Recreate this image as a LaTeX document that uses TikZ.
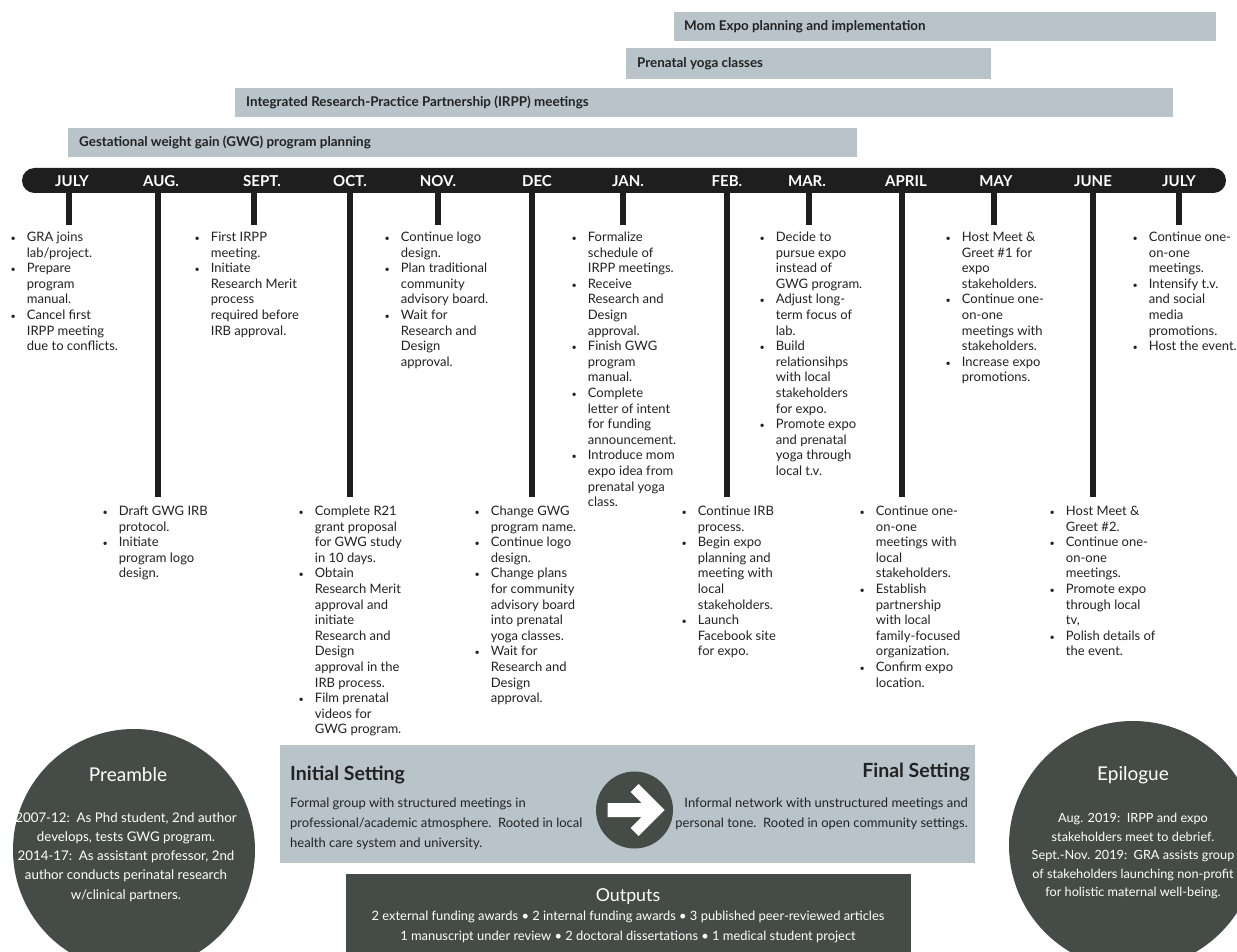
\documentclass[tikz,border=0pt]{standalone}
\usepackage{fontspec}
\setmainfont{Lato}
\usetikzlibrary{positioning}

\definecolor{barblue}{HTML}{B8C4CA}
\definecolor{slate}{HTML}{454C48}
\definecolor{ink}{HTML}{1E1E1E}
\definecolor{txt}{HTML}{222222}

% bullet list with hand broken lines
\newcommand{\steps}[1]{\begin{tabular}[t]{@{}c@{\hspace{11pt}}l@{}}#1\end{tabular}}
\newcommand{\bul}{{\fontsize{9}{9}\selectfont\textbullet}&}

\begin{document}
\begin{tikzpicture}[x=1pt, y=-1pt,
		phase/.style={fill=barblue, anchor=north west, inner sep=0pt, minimum height=29pt},
		phaselbl/.style={anchor=west, inner sep=0pt, font=\bfseries\fontsize{13.4}{15}\selectfont, text=txt},
		timeline/.style={fill=ink, rounded corners=12.5pt, inner sep=0pt, minimum height=25pt},
		month/.style={font=\bfseries\fontsize{15}{16}\selectfont, text=white, inner sep=0pt},
		tick/.style={draw=ink, line width=6.5pt},
		evt/.style={anchor=base west, inner sep=0pt, font=\fontsize{13}{15.6}\selectfont, text=txt},
		disc/.style={circle, fill=slate, inner sep=0pt},
		disctitle/.style={font=\fontsize{19}{22}\selectfont, text=white, inner sep=0pt},
		disctext/.style={align=center, font=\fontsize{13.3}{19.2}\selectfont, text=white, inner sep=0pt},
		settext/.style={font=\fontsize{13}{20}\selectfont, text=txt, inner sep=0pt},
		sethead/.style={font=\bfseries\fontsize{19.5}{22}\selectfont, text=txt, inner sep=0pt}
	]

	\path[use as bounding box, fill=white] (0,0) rectangle (1237,952);

	% phases
	\node[phase, minimum width=542pt] (expo) at (674,12) {};
	\node[phaselbl, right=10pt of expo.west] (expolbl) {Mom Expo planning and implementation};
	\node[phase, minimum width=365pt, minimum height=31pt] (yoga) at (626,48) {};
	\node[phaselbl, right=11pt of yoga.west] (yogalbl) {Prenatal yoga classes};
	\node[phase, minimum width=938pt] (irpp) at (235,88) {};
	\node[phaselbl, right=11pt of irpp.west] (irpplbl) {Integrated Research-Practice Partnership (IRPP) meetings};
	\node[phase, minimum width=789pt] (gwg) at (68,128) {};
	\node[phaselbl, right=11pt of gwg.west] (gwglbl) {Gestational weight gain (GWG) program planning};

	% timeline
	\node[timeline, minimum width=1204pt] (tl) at (624,180.5) {};
	\foreach \x/\m [count=\i] in {72/JULY, 161/AUG., 262/SEPT., 350/OCT., 438/NOV., 537/DEC, 628/JAN., 727/FEB., 807/MAR., 906/APRIL, 996/MAY, 1093/JUNE, 1179/JULY}
		\node[month] (m\i) at (\x,181.5) {\m};

	\foreach \x/\y [count=\i] in {69/225, 158/497, 254/225, 350/497, 438/225, 532/497, 623/225, 727/497, 809/225, 902/497, 994/225, 1093/497, 1179/225}
	{
		\coordinate (tk\i) at (\x,\y);
		\draw[tick] (tk\i |- tl.south) -- (tk\i);
	}

	% above the line
	\node[evt] (ev1) at (10.5,241.5) {\steps{\bul GRA joins\\ & lab/project.\\ \bul Prepare\\ & program\\ & manual.\\ \bul Cancel first\\ & IRPP meeting\\ & due to conflicts.}};
	\node[evt] (ev3) at (194.5,241.5) {\steps{\bul First IRPP\\ & meeting.\\ \bul Initiate\\ & Research Merit\\ & process\\ & required before\\ & IRB approval.}};
	\node[evt] (ev5) at (384.5,241.5) {\steps{\bul Continue logo\\ & design.\\ \bul Plan traditional\\ & community\\ & advisory board.\\ \bul Wait for\\ & Research and\\ & Design\\ & approval.}};
	\node[evt] (ev7) at (571.5,241.5) {\steps{\bul Formalize\\ & schedule of\\ & IRPP meetings.\\ \bul Receive\\ & Research and\\ & Design\\ & approval.\\ \bul Finish GWG\\ & program\\ & manual.\\ \bul Complete\\ & letter of intent\\ & for funding\\ & announcement.\\ \bul Introduce mom\\ & expo idea from\\ & prenatal yoga\\ & class.}};
	\node[evt] (ev9) at (759.5,241.5) {\steps{\bul Decide to\\ & pursue expo\\ & instead of\\ & GWG program.\\ \bul Adjust long-\\ & term focus of\\ & lab.\\ \bul Build\\ & relationsihps\\ & with local\\ & stakeholders\\ & for expo.\\ \bul Promote expo\\ & and prenatal\\ & yoga through\\ & local t.v.}};
	\node[evt] (ev11) at (945.5,241.5) {\steps{\bul Host Meet \&\\ & Greet \#1 for\\ & expo\\ & stakeholders.\\ \bul Continue one-\\ & on-one\\ & meetings with\\ & stakeholders.\\ \bul Increase expo\\ & promotions.}};
	\node[evt] (ev13) at (1132.5,241.5) {\steps{\bul Continue one-\\ & on-one\\ & meetings.\\ \bul Intensify t.v.\\ & and social\\ & media\\ & promotions.\\ \bul Host the event.}};

	% below the line
	\node[evt] (ev2) at (102.5,515.5) {\steps{\bul Draft GWG IRB\\ & protocol.\\ \bul Initiate\\ & program logo\\ & design.}};
	\node[evt] (ev4) at (298.5,515.5) {\steps{\bul Complete R21\\ & grant proposal\\ & for GWG study\\ & in 10 days.\\ \bul Obtain\\ & Research Merit\\ & approval and\\ & initiate\\ & Research and\\ & Design\\ & approval in the\\ & IRB process.\\ \bul Film prenatal\\ & videos for\\ & GWG program.}};
	\node[evt] (ev6) at (474.5,515.5) {\steps{\bul Change GWG\\ & program name.\\ \bul Continue logo\\ & design.\\ \bul Change plans\\ & for community\\ & advisory board\\ & into prenatal\\ & yoga classes.\\ \bul Wait for\\ & Research and\\ & Design\\ & approval.}};
	\node[evt] (ev8) at (681.5,515.5) {\steps{\bul Continue IRB\\ & process.\\ \bul Begin expo\\ & planning and\\ & meeting with\\ & local\\ & stakeholders.\\ \bul Launch\\ & Facebook site\\ & for expo.}};
	\node[evt] (ev10) at (859.5,515.5) {\steps{\bul Continue one-\\ & on-one\\ & meetings with\\ & local\\ & stakeholders.\\ \bul Establish\\ & partnership\\ & with local\\ & family-focused\\ & organization.\\ \bul Confirm expo\\ & location.}};
	\node[evt] (ev12) at (1049.5,515.5) {\steps{\bul Host Meet \&\\ & Greet \#2.\\ \bul Continue one-\\ & on-one\\ & meetings.\\ \bul Promote expo\\ & through local\\ & tv,\\ \bul Polish details of\\ & the event.}};

	% preamble / epilogue
	\node[disc, minimum size=242pt] (pre) at (134,850) {};
	\node[disctitle] (pretitle) at (128,775) {Preamble};
	\node[disctext] (pretext) at (126,857) {2007-12:\ \ As Phd student, 2nd author\\ develops, tests GWG program.\\ 2014-17:\ \ As assistant professor, 2nd\\ author conducts perinatal research\\ w/clinical partners.};
	\node[disc, minimum size=248pt] (epi) at (1133,845) {};
	\node[disctitle] (epititle) at (1133,775) {Epilogue};
	\node[disctext, font=\fontsize{12.7}{18.5}\selectfont] (epitext) at (1133,856) {Aug. 2019:\ \ IRPP and expo\\ stakeholders meet to debrief.\\ Sept.-Nov. 2019:\ \ GRA assists group\\ of stakeholders launching non-profit\\ for holistic maternal well-being.};

	% settings
	\node[fill=barblue, anchor=north west, minimum width=695pt, minimum height=118pt, inner sep=0pt] (set) at (280,745) {};
	\node[sethead, anchor=west] (init) at (290,775) {Initial Setting};
	\node[settext, anchor=west, align=left] (inittext) at (290,824) {Formal group with structured meetings in\\ professional/academic atmosphere.\ \ Rooted in local\\ health care system and university.};
	\node[sethead, anchor=east] (final) at (970,772) {Final Setting};
	\node[settext, anchor=east, align=right] (finaltext) at (968,814) {Informal network with unstructured meetings and\\ personal tone.\ \ Rooted in open community settings.};
	\node[disc, minimum size=77pt] (arr) at (634.5,810) {};
	\fill[white, shift={(arr.center)}] (-27,-7) -- (7,-7) -- (-4,-18) -- (4,-26) -- (30,0) -- (4,26) -- (-4,18) -- (7,7) -- (-27,7) -- cycle;

	% outputs
	\node[fill=slate, anchor=north west, minimum width=565pt, minimum height=80pt, inner sep=0pt] (out) at (346,874) {};
	\node[disctitle, font=\fontsize{17.8}{20}\selectfont] (outtitle) at (628,897) {Outputs};
	\node[disctext, font=\fontsize{12.9}{20}\selectfont] (outtext) at (628,927) {2 external funding awards \textbullet{} 2 internal funding awards \textbullet{} 3 published peer-reviewed articles\\ 1 manuscript under review \textbullet{} 2 doctoral dissertations \textbullet{} 1 medical student project};

\end{tikzpicture}
\end{document}
